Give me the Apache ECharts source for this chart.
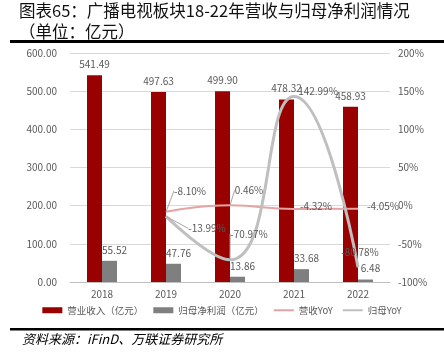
<!DOCTYPE html>
<html>
<head>
<meta charset="utf-8">
<script src="https://cdn.jsdelivr.net/npm/echarts@6/dist/echarts.min.js"></script>
<style>
  html, body { margin: 0; padding: 0; background: #fff; }
  #chart { width: 444px; height: 364px; }
</style>
</head>
<body>
<div id="chart"></div>
<script>
// 数据
var years = ['2018', '2019', '2020', '2021', '2022'];
var revenue = [541.49, 497.63, 499.90, 478.32, 458.93];
var netProfit = [55.52, 47.76, 13.86, 33.68, 6.48];
var revenueYoY = [null, -8.10, 0.46, -4.32, -4.05];
var profitYoY = [null, -13.99, -70.97, 142.99, -80.78];

// 折线标签偏移（相对数据点）及是否画引导线
var revYoYOffset = [null, [24, -21], [19, -15], [22, -3], [25, -3]];
var proYoYOffset = [null, [41, 12], [19, -26], [24, -5], [2, -15]];
var revYoYGuide = [false, true, true, false, false];
var proYoYGuide = [false, true, true, false, false];

var chart = echarts.init(document.getElementById('chart'));
var font = '"Noto Sans CJK SC", "Noto Sans", sans-serif';
var txtColor = '#595959';
var lineIcon = 'path://M0,0h20v2h-20z';

function lineData(vals, guide) {
    return vals.map(function (v, i) {
        if (v == null) return null;
        return { value: v, labelLine: { show: guide[i] } };
    });
}

function moveLabel(offs) {
    return function (p) {
        var o = offs[p.dataIndex];
        if (!o) return {};
        return { dx: o[0], dy: o[1] };
    };
}

var option = {
    backgroundColor: '#fff',
    animation: false,
    textStyle: { fontFamily: font },
    title: {
        text: '图表65：广播电视板块18-22年营收与归母净利润情况\n（单位：亿元）',
        left: 19,
        top: 0,
        padding: 0,
        textStyle: {
            fontSize: 16.5,
            fontWeight: 'normal',
            color: '#111',
            lineHeight: 21,
            fontFamily: font
        }
    },
    graphic: [
        { type: 'rect', shape: { x: 10, y: 40, width: 434, height: 3 }, style: { fill: '#000' } },
        { type: 'rect', shape: { x: 10, y: 328, width: 434, height: 2.5 }, style: { fill: '#000' } },
        {
            type: 'text', left: 22, top: 333,
            style: {
                text: '资料来源：iFinD、万联证券研究所',
                fill: '#000',
                font: 'italic 13px ' + font
            }
        }
    ],
    grid: { left: 70, right: 54, top: 53, bottom: 82 },
    legend: {
        bottom: 44,
        left: 'center',
        itemWidth: 20,
        itemHeight: 6,
        itemGap: 10,
        textStyle: { fontSize: 9.5, color: txtColor },
        data: [
            { name: '营业收入（亿元）', icon: 'rect' },
            { name: '归母净利润（亿元）', icon: 'rect' },
            { name: '营收YoY', icon: lineIcon },
            { name: '归母YoY', icon: lineIcon }
        ]
    },
    xAxis: {
        type: 'category',
        data: years,
        axisLine: { lineStyle: { color: '#bfbfbf', width: 1 } },
        axisTick: { show: false },
        axisLabel: { color: txtColor, fontSize: 10, margin: 7 }
    },
    yAxis: [
        {
            type: 'value',
            min: 0, max: 600, interval: 100,
            axisLine: { show: false },
            axisTick: { show: false },
            splitLine: { lineStyle: { color: '#d9d9d9' } },
            axisLabel: {
                color: txtColor, fontSize: 10, margin: 13,
                formatter: function (v) { return v.toFixed(2); }
            }
        },
        {
            type: 'value',
            min: -100, max: 200, interval: 50,
            axisLine: { show: false },
            axisTick: { show: false },
            splitLine: { show: false },
            axisLabel: {
                color: txtColor, fontSize: 10, margin: 8,
                formatter: '{value}%'
            }
        }
    ],
    series: [
        {
            name: '营业收入（亿元）',
            type: 'bar',
            barWidth: 15,
            barGap: '0%',
            itemStyle: { color: '#990000' },
            label: {
                show: true, position: 'top', color: txtColor, fontSize: 10, distance: 6,
                formatter: function (p) { return p.value.toFixed(2); }
            },
            data: revenue
        },
        {
            name: '归母净利润（亿元）',
            type: 'bar',
            barWidth: 15,
            itemStyle: { color: '#7f7f7f' },
            label: {
                show: true, position: 'top', color: txtColor, fontSize: 10, distance: 6,
                offset: [5, 0],
                formatter: function (p) { return p.value.toFixed(2); }
            },
            data: netProfit
        },
        {
            name: '营收YoY',
            type: 'line',
            yAxisIndex: 1,
            smooth: true,
            symbol: 'circle',
            symbolSize: 1,
            lineStyle: { color: '#e6a3a3', width: 2 },
            itemStyle: { color: '#e6a3a3' },
            label: {
                show: true, position: 'inside', color: txtColor, fontSize: 10,
                formatter: function (p) { return p.value.toFixed(2) + '%'; }
            },
            labelLine: { show: true, lineStyle: { color: '#a6a6a6', width: 1 } },
            labelLayout: moveLabel(revYoYOffset),
            data: lineData(revenueYoY, revYoYGuide)
        },
        {
            name: '归母YoY',
            type: 'line',
            yAxisIndex: 1,
            smooth: true,
            symbol: 'circle',
            symbolSize: 1,
            lineStyle: { color: '#bfbfbf', width: 3 },
            itemStyle: { color: '#bfbfbf' },
            label: {
                show: true, position: 'inside', color: txtColor, fontSize: 10,
                formatter: function (p) { return p.value.toFixed(2) + '%'; }
            },
            labelLine: { show: true, lineStyle: { color: '#a6a6a6', width: 1 } },
            labelLayout: moveLabel(proYoYOffset),
            data: lineData(profitYoY, proYoYGuide)
        }
    ]
};

chart.setOption(option);
</script>
</body>
</html>
